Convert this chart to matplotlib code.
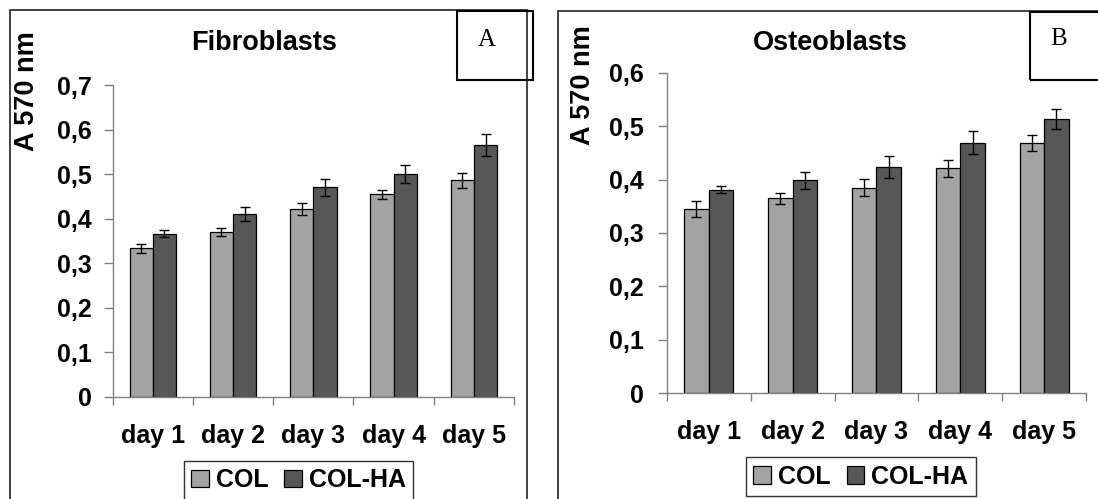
import matplotlib
matplotlib.use("Agg")
import matplotlib.pyplot as plt
from matplotlib.patches import Rectangle, Patch
import numpy as np

plt.rcParams['font.family'] = ['Liberation Sans', 'DejaVu Sans']
plt.rcParams['font.weight'] = 'bold'

days = ["day 1", "day 2", "day 3", "day 4", "day 5"]
series = ["COL", "COL-HA"]

fib_col = [0.333, 0.369, 0.421, 0.455, 0.486]
fib_col_err = [0.010, 0.009, 0.014, 0.010, 0.017]
fib_ha = [0.366, 0.411, 0.470, 0.500, 0.565]
fib_ha_err = [0.008, 0.016, 0.019, 0.021, 0.024]

ost_col = [0.345, 0.365, 0.385, 0.421, 0.469]
ost_col_err = [0.015, 0.010, 0.016, 0.016, 0.015]
ost_ha = [0.381, 0.399, 0.424, 0.469, 0.513]
ost_ha_err = [0.007, 0.016, 0.021, 0.021, 0.019]

fib_yticks = [0, 0.1, 0.2, 0.3, 0.4, 0.5, 0.6, 0.7]
fib_yticklabels = ["0", "0,1", "0,2", "0,3", "0,4", "0,5", "0,6", "0,7"]
ost_yticks = [0, 0.1, 0.2, 0.3, 0.4, 0.5, 0.6]
ost_yticklabels = ["0", "0,1", "0,2", "0,3", "0,4", "0,5", "0,6"]

C_COL = "#a3a3a3"
C_HA = "#575757"
W, H = 1098, 499
fig = plt.figure(figsize=(W / 100, H / 100), dpi=100)


def px_axes(x0, x1, ytop, ybot):
    return fig.add_axes([x0 / W, (H - ybot) / H, (x1 - x0) / W, (ybot - ytop) / H])


def fig_rect(x0, y0, x1, y1, lw=1.3, color="#333333"):
    fig.patches.append(Rectangle((x0 / W, (H - y1) / H), (x1 - x0) / W, (y1 - y0) / H,
                                 transform=fig.transFigure, fill=False, lw=lw,
                                 edgecolor=color, facecolor="none", clip_on=False))


def draw_panel(ax, col, col_err, ha, ha_err, yticks, yticklabels, ytop, ypad, lpad):
    x = np.arange(len(days))
    w = 0.29
    ax.bar(x - w / 2, col, w, color=C_COL, edgecolor="black", linewidth=0.9,
           yerr=col_err, error_kw=dict(ecolor="black", elinewidth=1.0, capsize=3.8, capthick=1.0))
    ax.bar(x + w / 2, ha, w, color=C_HA, edgecolor="black", linewidth=0.9,
           yerr=ha_err, error_kw=dict(ecolor="black", elinewidth=1.0, capsize=3.8, capthick=1.0))
    ax.set_xlim(-0.5, len(days) - 0.5)
    ax.set_ylim(0, ytop)
    for s in ["top", "right"]:
        ax.spines[s].set_visible(False)
    for s in ["left", "bottom"]:
        ax.spines[s].set_color("#808080")
        ax.spines[s].set_linewidth(1.0)
    ax.set_yticks(yticks)
    ax.set_yticklabels(yticklabels, fontsize=18, fontweight="bold")
    ax.tick_params(axis="y", length=6.3, width=1.0, color="#808080", pad=ypad)
    ax.set_xticks(np.arange(len(days) + 1) - 0.5)
    ax.set_xticklabels([])
    ax.set_xticks(x, minor=True)
    ax.set_xticklabels(days, minor=True, fontsize=18, fontweight="bold")
    ax.tick_params(axis="x", which="major", length=5.6, width=1.0, color="#808080")
    ax.tick_params(axis="x", which="minor", length=0, pad=lpad)
    ax.patch.set_alpha(0)


# Left panel
fig_rect(9.5, 10, 527, 520)
axL = px_axes(112.7, 514, 85, 396.7)
draw_panel(axL, fib_col, fib_col_err, fib_ha, fib_ha_err, fib_yticks, fib_yticklabels,
           0.7, 9, 20)
fig.text(264 / W, 1 - 43 / H, "Fibroblasts", ha="center", va="center", fontsize=19.5, fontweight="bold")
fig.text(27.4 / W, 1 - 91 / H, "A 570 nm", rotation=90, ha="center", va="center",
         fontsize=19.5, fontweight="bold")
fig_rect(457, 11, 533, 80, lw=1.5, color="black")
fig.text(486.5 / W, 1 - 40 / H, "A", ha="center", va="center", fontsize=18,
         family=["Liberation Serif", "DejaVu Serif"], fontweight="normal")

# Right panel
fig_rect(557.5, 10.7, 1120, 520)
axR = px_axes(666.7, 1086.2, 72.7, 393.3)
draw_panel(axR, ost_col, ost_col_err, ost_ha, ost_ha_err, ost_yticks, ost_yticklabels,
           0.6, 10, 19)
fig.text(830 / W, 1 - 43 / H, "Osteoblasts", ha="center", va="center", fontsize=19.5, fontweight="bold")
fig.text(583.4 / W, 1 - 85 / H, "A 570 nm", rotation=90, ha="center", va="center",
         fontsize=19.5, fontweight="bold")
fig_rect(1030, 12, 1120, 80, lw=1.5, color="black")
fig.text(1059 / W, 1 - 39 / H, "B", ha="center", va="center", fontsize=18,
         family=["Liberation Serif", "DejaVu Serif"], fontweight="normal")

handles = [Patch(facecolor=C_COL, edgecolor="black", linewidth=0.9, label=series[0]),
           Patch(facecolor=C_HA, edgecolor="black", linewidth=0.9, label=series[1])]
for cx, cy in [(298.5, 480), (860.7, 476.7)]:
    leg = fig.legend(handles=handles, loc="center", bbox_to_anchor=(cx / W, 1 - cy / H),
                     ncol=2, frameon=True, fancybox=False, edgecolor="black",
                     prop=dict(size=18, weight="bold"), handlelength=0.7, handleheight=0.7,
                     handletextpad=0.28, columnspacing=0.65, borderpad=0.3, borderaxespad=0)
    leg.get_frame().set_linewidth(1.0)

fig.savefig("out.png", dpi=100, facecolor="white")
